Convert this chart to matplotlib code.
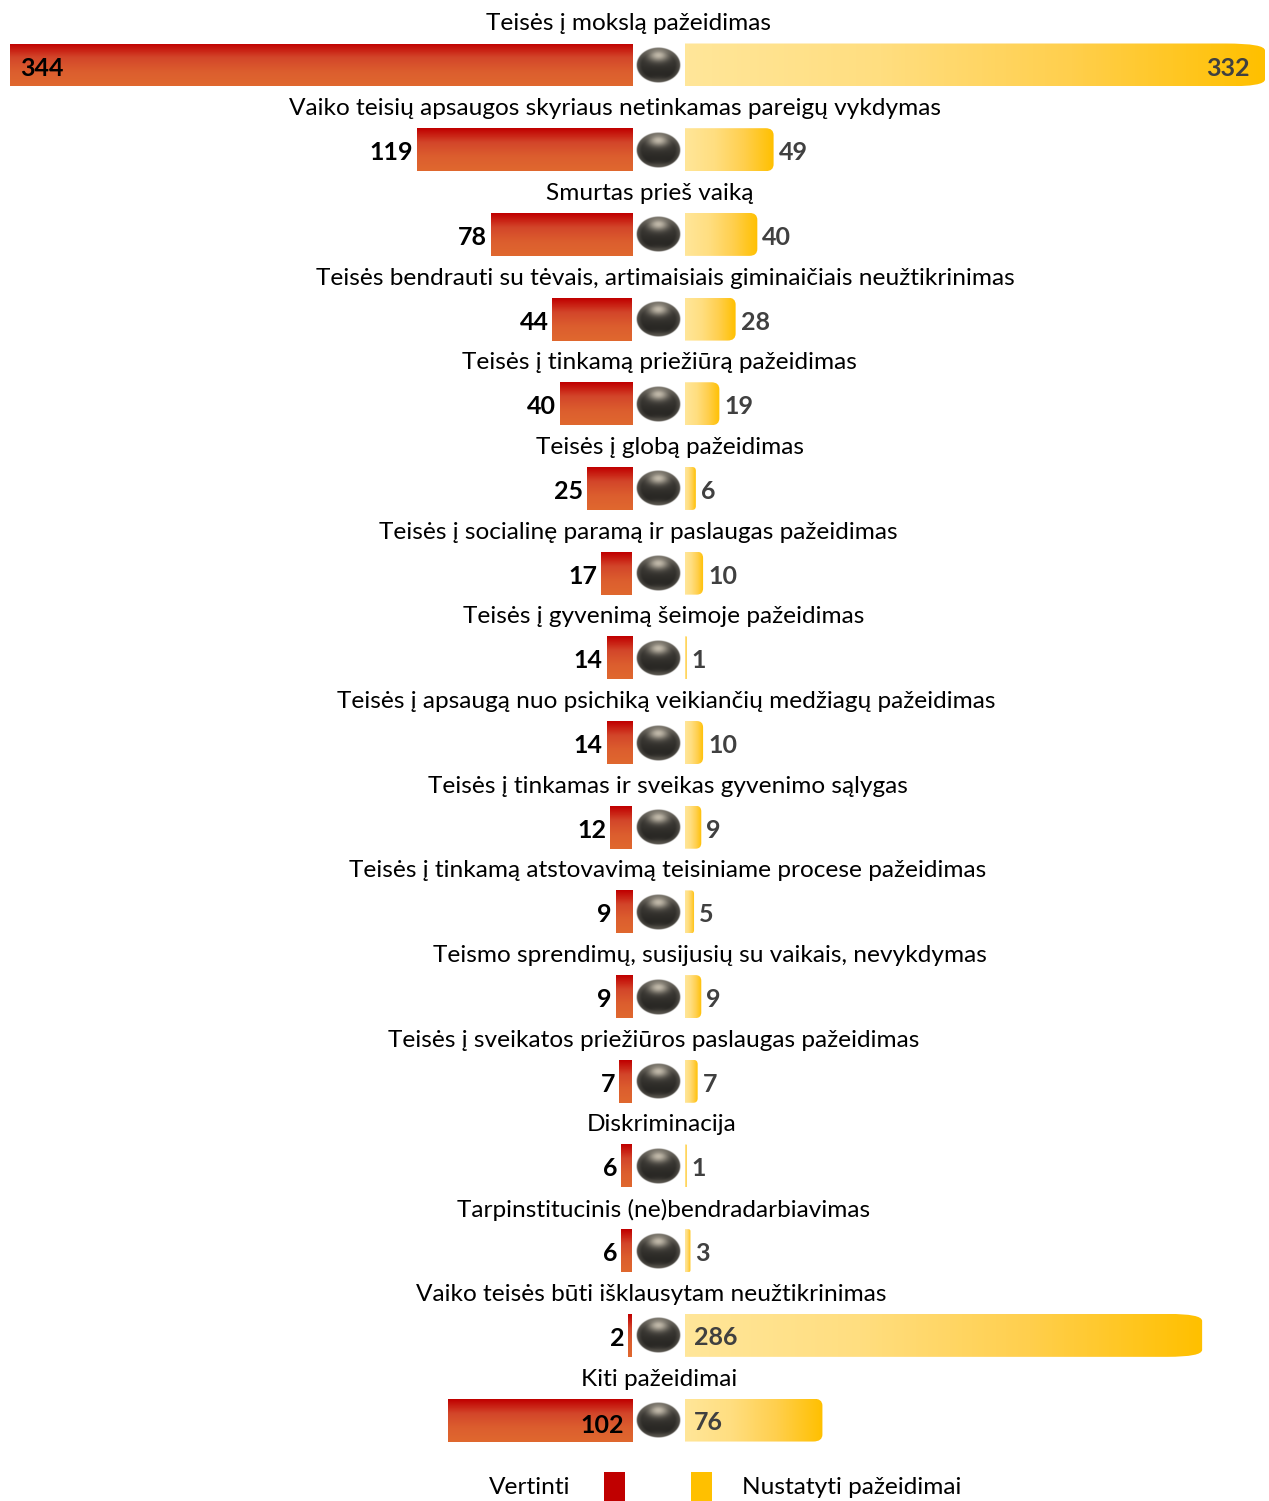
import numpy as np
import matplotlib.pyplot as plt
from matplotlib.patches import Rectangle, FancyBboxPatch
from matplotlib.colors import LinearSegmentedColormap
from matplotlib import transforms

plt.rcParams['font.family'] = ['Lato', 'DejaVu Sans']

# duomenys
categories = [
    'Teisės į mokslą pažeidimas',
    'Vaiko teisių apsaugos skyriaus netinkamas pareigų vykdymas',
    'Smurtas prieš vaiką',
    'Teisės bendrauti su tėvais, artimaisiais giminaičiais neužtikrinimas',
    'Teisės į tinkamą priežiūrą pažeidimas',
    'Teisės į globą pažeidimas',
    'Teisės į socialinę paramą ir paslaugas pažeidimas',
    'Teisės į gyvenimą šeimoje pažeidimas',
    'Teisės į apsaugą nuo psichiką veikiančių medžiagų pažeidimas',
    'Teisės į tinkamas ir sveikas gyvenimo sąlygas',
    'Teisės į tinkamą atstovavimą teisiniame procese pažeidimas',
    'Teismo sprendimų, susijusių su vaikais, nevykdymas',
    'Teisės į sveikatos priežiūros paslaugas pažeidimas',
    'Diskriminacija',
    'Tarpinstitucinis (ne)bendradarbiavimas',
    'Vaiko teisės būti išklausytam neužtikrinimas',
    'Kiti pažeidimai',
]
vertinti = [344, 119, 78, 44, 40, 25, 17, 14, 14, 12, 9, 9, 7, 6, 6, 2, 102]
nustatyti = [332, 49, 40, 28, 19, 6, 10, 1, 10, 9, 5, 9, 7, 1, 3, 286, 76]

# label layout (pixel centres of category titles, which labels sit inside bars)
title_x = [628, 615, 650, 665, 659, 670, 638, 664, 666, 668, 668, 710, 654, 662, 664, 651, 659]
left_inside = {0: 'end', 16: 'base'}
right_inside = {0: 'end', 15: 'base', 16: 'base'}

W, H = 1269, 1501
fig = plt.figure(figsize=(W / 100, H / 100), dpi=100)

row_px = 84.69
top_px = 65
ylim = ((H - top_px) / row_px, -top_px / row_px)
px_unit = 622 / 344.0
bar_h = 43 / row_px
dy = 3 / row_px
TS = 17.6
VS = 18

ax_l = fig.add_axes([0, 0, 632 / W, 1])
ax_r = fig.add_axes([685 / W, 0, 580 / W, 1])
ax_m = fig.add_axes([632 / W, 0, 53 / W, 1])
for a in (ax_l, ax_r, ax_m):
    a.axis('off')
    a.patch.set_alpha(0)

red_cmap = LinearSegmentedColormap.from_list('r', ['#C00000', '#D3462A', '#DC5E2E', '#E0682F'])
yel_cmap = LinearSegmentedColormap.from_list('y', ['#FFE699', '#FFDE80', '#FFCF4D', '#FFC000'])
vgrad = np.linspace(0, 1, 64).reshape(-1, 1)
hgrad = np.linspace(0, 1, 128).reshape(1, -1)

ys = np.arange(len(categories))

# kairė (vertinti)
bars = ax_l.barh(ys, vertinti, height=bar_h, color='none', edgecolor='none')
for i, b in enumerate(bars):
    v = vertinti[i]
    im = ax_l.imshow(vgrad, cmap=red_cmap, aspect='auto', interpolation='bilinear',
                     extent=(0, v, i + bar_h / 2, i - bar_h / 2))
    im.set_clip_path(b)
    mode = left_inside.get(i)
    if mode == 'end':
        ax_l.text(v - 10 / px_unit, i + dy, str(v), ha='left', va='center',
                  fontsize=VS, fontweight='bold', color='black')
    elif mode == 'base':
        ax_l.text(8 / px_unit, i + 0.07, str(v), ha='right', va='center',
                  fontsize=VS, fontweight='bold', color='black')
    else:
        ax_l.text(v + 4 / px_unit, i + dy, str(v), ha='right', va='center',
                  fontsize=VS, fontweight='bold', color='black')
ax_l.set_xlim(632 / px_unit, 0)
ax_l.set_ylim(*ylim)

# dešinė (nustatyti pažeidimai)
xmax_r = 580 / px_unit
for i, v in enumerate(nustatyti):
    vis = min(v, xmax_r)
    w_px = vis * px_unit
    rx_px = min(0.35 * w_px, max(0.068 * w_px, 8))
    ry_px = min(7, max(rx_px, 0.5))
    rx = rx_px / px_unit
    ry = ry_px / row_px
    box = FancyBboxPatch((-2 * rx, i - bar_h / 2), vis + 2 * rx, bar_h,
                         boxstyle=f'round,pad=0,rounding_size={rx}',
                         mutation_aspect=ry / rx, facecolor='none', edgecolor='none')
    ax_r.add_patch(box)
    im = ax_r.imshow(hgrad, cmap=yel_cmap, aspect='auto', interpolation='bilinear',
                     extent=(0, vis, i + bar_h / 2, i - bar_h / 2))
    im.set_clip_path(box)
    mode = right_inside.get(i)
    if mode == 'end':
        ax_r.text(565 / px_unit, i + dy, str(v), ha='right', va='center',
                  fontsize=VS, fontweight='bold', color='#404040')
    elif mode == 'base':
        ax_r.text(9 / px_unit, i + 0.03, str(v), ha='left', va='center',
                  fontsize=VS, fontweight='bold', color='#404040')
    else:
        ax_r.text(v + 5 / px_unit, i + dy, str(v), ha='left', va='center',
                  fontsize=VS, fontweight='bold', color='#404040')
ax_r.set_xlim(0, xmax_r)
ax_r.set_ylim(*ylim)

# rutuliukai per vidurį
n = 90
u, w = np.meshgrid(np.linspace(-1, 1, n), np.linspace(-1, 1, n))
r = np.sqrt(u ** 2 + w ** 2)
light = 0.20 + 0.55 * np.exp(-(u ** 2 / 0.22 + (w + 0.55) ** 2 / 0.12)) \
    + 0.12 * np.exp(-(u ** 2 / 0.3 + (w - 0.85) ** 2 / 0.04)) \
    - 0.08 * np.clip(w, 0, 1) + 0.15 * np.clip(r - 0.75, 0, 1) * 4
sphere = np.zeros((n, n, 4))
sphere[..., 0] = np.clip(light * 1.00, 0, 1)
sphere[..., 1] = np.clip(light * 0.96, 0, 1)
sphere[..., 2] = np.clip(light * 0.88, 0, 1)
sphere[..., 3] = np.clip((1 - r) * 22, 0, 1)
ball_w = 45 / 53 * 2
ball_h = 36 / row_px
for i in ys:
    ax_m.imshow(sphere, aspect='auto', interpolation='bilinear',
                extent=(-ball_w / 2, ball_w / 2, i + ball_h / 2, i - ball_h / 2))
ax_m.set_xlim(-1, 1)
ax_m.set_ylim(*ylim)

# kategorijų pavadinimai
tr = transforms.blended_transform_factory(fig.transFigure, ax_l.transData)
for i, c in enumerate(categories):
    ax_l.text(title_x[i] / W, i - 41 / row_px, c, transform=tr, ha='center', va='center',
              fontsize=TS, color='black', clip_on=False)

# legenda
fig.text(489 / W, 1 - 1487 / H, 'Vertinti', ha='left', va='center', fontsize=TS)
fig.patches.append(Rectangle((604 / W, 0), 21 / W, 29 / H, transform=fig.transFigure,
                             facecolor='#C00000', edgecolor='none'))
fig.patches.append(Rectangle((691 / W, 0), 21 / W, 29 / H, transform=fig.transFigure,
                             facecolor='#FFC000', edgecolor='none'))
fig.text(742 / W, 1 - 1487 / H, 'Nustatyti pažeidimai', ha='left', va='center', fontsize=TS)

fig.savefig('out.png', dpi=100, facecolor='white')
